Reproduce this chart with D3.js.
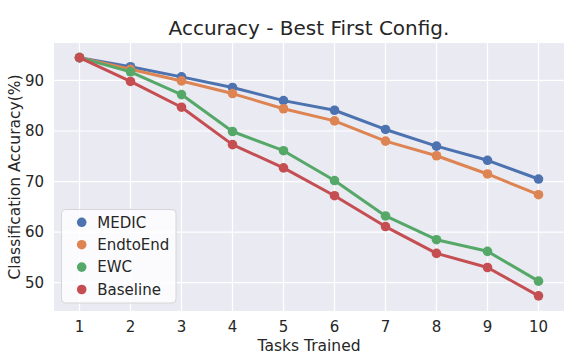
<!DOCTYPE html>
<html><head><meta charset="utf-8">
<script src="https://cdn.jsdelivr.net/npm/d3@7"></script>
<style>body{margin:0;background:#fff}svg{display:block}text{font-family:"DejaVu Sans",sans-serif;fill:#262626}</style>
</head><body>
<svg id="chart" width="582" height="360"></svg>
<script>
const tasks = [1,2,3,4,5,6,7,8,9,10];
const seriesNames = ["MEDIC","EndtoEnd","EWC","Baseline"];
const medic    = [94.5,92.7,90.7,88.6,86.0,84.1,80.3,77.0,74.2,70.5];
const endtoend = [94.5,92.2,89.9,87.4,84.4,82.0,78.0,75.1,71.5,67.4];
const ewc      = [94.5,91.7,87.2,79.9,76.1,70.2,63.2,58.5,56.2,50.3];
const baseline = [94.5,89.8,84.7,77.3,72.7,67.2,61.1,55.8,53.0,47.4];
const yTicks = [50,60,70,80,90];
const colors = ["#4c72b0","#dd8452","#55a868","#c44e52"];
const seriesValues = [medic,endtoend,ewc,baseline];

const svg = d3.select("#chart");
const m = {left:54, right:564, top:43, bottom:311};
const x = d3.scaleBand().domain(tasks).range([m.left,m.right]);
const y = d3.scaleLinear().domain([44.4,97.4]).range([m.bottom,m.top]);

svg.append("rect").attr("x",m.left).attr("y",m.top).attr("width",m.right-m.left).attr("height",m.bottom-m.top).attr("fill","#eaeaf2");

const xc = d => x(d)+x.bandwidth()/2;
const gx = svg.append("g");
gx.selectAll("line").data(tasks).join("line").attr("x1",xc).attr("x2",xc).attr("y1",m.top).attr("y2",m.bottom).attr("stroke","#fff").attr("stroke-width",1.2);
const gy = svg.append("g");
gy.selectAll("line").data(yTicks).join("line").attr("x1",m.left).attr("x2",m.right).attr("y1",d=>y(d)).attr("y2",d=>y(d)).attr("stroke","#fff").attr("stroke-width",1.2);

svg.append("g").selectAll("text").data(tasks).join("text").attr("x",xc).attr("y",332).attr("text-anchor","middle").attr("font-size",15).text(d=>d);
svg.append("g").selectAll("text").data(yTicks).join("text").attr("x",44).attr("y",d=>y(d)+5.3).attr("text-anchor","end").attr("font-size",15).text(d=>d);

const line = d3.line().x((v,i)=>xc(tasks[i])).y(v=>y(v));
seriesValues.forEach((vals,k)=>{
  const g = svg.append("g");
  g.append("path").attr("d",line(vals)).attr("fill","none").attr("stroke",colors[k]).attr("stroke-width",3).attr("stroke-linejoin","round");
  g.selectAll("circle").data(vals).join("circle").attr("cx",(v,i)=>xc(tasks[i])).attr("cy",v=>y(v)).attr("r",4.8).attr("fill",colors[k]);
});

svg.append("text").attr("x",(m.left+m.right)/2).attr("y",34.5).attr("text-anchor","middle").attr("font-size",20).text("Accuracy - Best First Config.");
svg.append("text").attr("x",(m.left+m.right)/2).attr("y",351).attr("text-anchor","middle").attr("font-size",15.5).text("Tasks Trained");
svg.append("text").attr("transform",`translate(19.5,${(m.top+m.bottom)/2}) rotate(-90)`).attr("text-anchor","middle").attr("font-size",15.5).text("Classification Accuracy(%)");

const lg = svg.append("g");
lg.append("rect").attr("x",61.5).attr("y",209.5).attr("width",114.5).attr("height",93.5).attr("rx",4).attr("fill","#fff").attr("fill-opacity",0.8).attr("stroke","#d6d6d6").attr("stroke-width",1);
seriesNames.forEach((n,k)=>{
  const yy = 222.3 + k*22.4;
  lg.append("circle").attr("cx",81.7).attr("cy",yy).attr("r",4.8).attr("fill",colors[k]);
  lg.append("text").attr("x",97.3).attr("y",yy+5.3).attr("font-size",15).text(n);
});
</script>
</body></html>
